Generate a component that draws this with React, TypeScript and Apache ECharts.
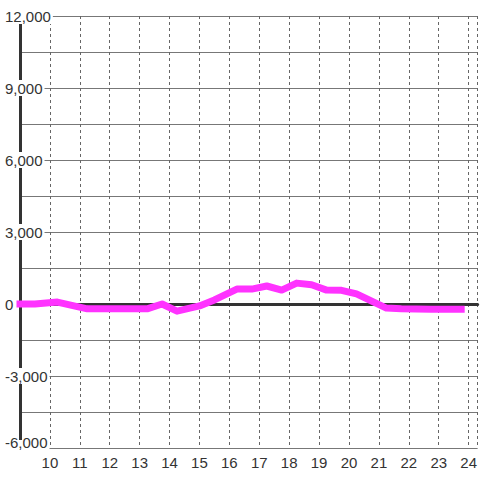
import React, { useEffect, useRef } from "react";
import * as echarts from "echarts";

const hours = [9, 9.5, 10.25, 11.25, 12.25, 13.25, 13.75, 14.25, 15, 15.5, 16.25, 16.75, 17.25, 17.75, 18.25, 18.75, 19.25, 19.75, 20.25, 21.25, 21.75, 22.75, 23.75];
const values = [0, 0, 80, -200, -200, -200, 0, -300, -80, 170, 620, 620, 750, 580, 870, 800, 580, 570, 420, -170, -200, -220, -220];
const yTicks = { min: -6000, max: 12000, step: 3000 };
const xRange = { min: 9, max: 24.3, step: 1 };

const FONT = "'Liberation Sans', Arial, sans-serif";

export default function App() {
  const ref = useRef<HTMLDivElement>(null);
  useEffect(() => {
    if (!ref.current) return;
    const chart = echarts.init(ref.current, null, { renderer: "svg" });
    const data = hours.map((h, i) => [h, values[i]]);
    chart.setOption({
      animation: false,
      backgroundColor: "#fff",
      textStyle: { fontFamily: FONT },
      grid: { left: 20, right: 0, top: 16, bottom: 32, containLabel: false },
      xAxis: [
        {
          type: "value",
          min: xRange.min,
          max: xRange.max,
          interval: xRange.step,
          position: "bottom",
          axisLine: { show: false, onZero: false },
          axisTick: { show: false },
          axisLabel: {
            color: "#333",
            fontSize: 15,
            fontFamily: FONT,
            margin: 7,
            showMinLabel: false,
            showMaxLabel: false,
          },
          splitLine: {
            show: true,
            lineStyle: { color: "#666", type: [3, 3], width: 1 },
          },
        },
        {
          type: "value",
          min: xRange.min,
          max: xRange.max,
          interval: xRange.step,
          position: "top",
          axisLine: { show: true, onZero: true, lineStyle: { color: "#333", width: 3 } },
          axisTick: { show: false },
          axisLabel: { show: false },
          splitLine: { show: false },
        },
      ],
      yAxis: {
        type: "value",
        min: yTicks.min,
        max: yTicks.max,
        interval: yTicks.step,
        axisLine: { show: true, onZero: false, lineStyle: { color: "#333", width: 3 } },
        axisTick: { show: false },
        axisLabel: {
          color: "#333",
          fontSize: 15,
          fontFamily: FONT,
          align: "left",
          margin: 15,
          backgroundColor: "#fff",
          padding: [0, 2, 0, 0],
          lineHeight: 16,
          formatter: (v: number) => {
            const s = v.toLocaleString("en-US");
            return v === yTicks.min ? `{low|${s}}` : s;
          },
          rich: {
            low: {
              color: "#333",
              fontSize: 15,
              fontFamily: FONT,
              lineHeight: 16,
              padding: [0, 0, 12, 0],
            },
          },
        },
        splitLine: { show: true, lineStyle: { color: "#777", width: 1 } },
        minorTick: { show: false, splitNumber: 2 },
        minorSplitLine: { show: true, lineStyle: { color: "#777", width: 1 } },
      },
      series: [
        {
          type: "line",
          xAxisIndex: 0,
          data,
          symbol: "none",
          smooth: false,
          lineStyle: { color: "#ff33ff", width: 7, cap: "square", join: "round" },
          z: 5,
        },
      ],
    });
    return () => chart.dispose();
  }, []);
  return (
    <div
      ref={ref}
      style={{ position: "fixed", left: 0, top: 0, width: 480, height: 480, background: "#fff" }}
    />
  );
}
